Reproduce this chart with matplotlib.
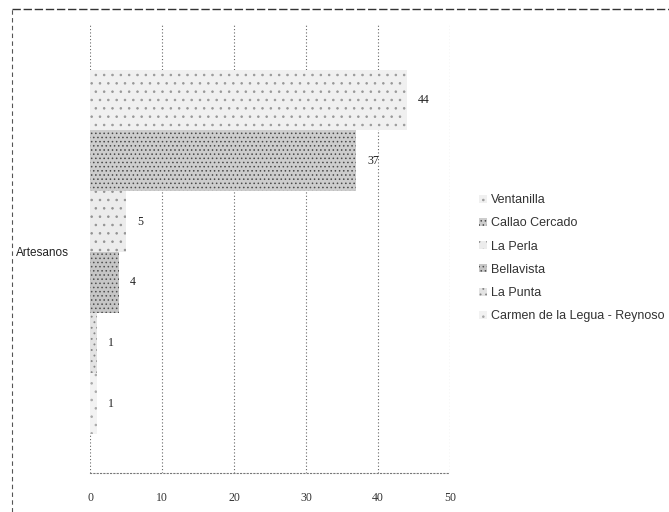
import matplotlib.pyplot as plt
from matplotlib.lines import Line2D
from matplotlib.patches import Patch
import numpy as np

plt.rcParams['font.family'] = ['Liberation Sans', 'DejaVu Sans']

category = "Artesanos"
series = ["Ventanilla", "Callao Cercado", "La Perla", "Bellavista", "La Punta",
          "Carmen de la Legua - Reynoso"]
values = [44, 37, 5, 4, 1, 1]
x_ticks = [0, 10, 20, 30, 40, 50]

# stippled greys, imitating the scanned printout
faces = ['#f0f0f0', '#cdcdcd', '#ececec', '#c6c6c6', '#e3e3e3', '#f2f2f2']
dots = ['#989898', '#4a4a4a', '#929292', '#505050', '#858585', '#a8a8a8']
hatches = ['..', '....', '..', '....', '...', '..']

plt.rcParams['hatch.linewidth'] = 0.6

fig = plt.figure(figsize=(6.69, 5.12), dpi=100)
ax = fig.add_axes([90 / 669, 1 - 473 / 512, 360 / 669, 450 / 512])

n = len(series)
ypos = np.arange(n)[::-1]
for i in range(n):
    ax.barh(ypos[i], values[i], height=1.0, color=faces[i], edgecolor=dots[i],
            hatch=hatches[i], linewidth=0, label=series[i], zorder=2)
    ax.annotate(str(values[i]), (values[i], ypos[i]), xytext=(8, 0),
                textcoords='offset points', ha='left', va='center',
                fontsize=8.5, color='#222222', family='Liberation Serif')

ax.set_xlim(0, 50)
ax.set_ylim(-0.5 - 0.64, n - 0.5 + 0.77)
ax.set_xticks(x_ticks)
ax.set_xticklabels([str(t) for t in x_ticks], family='Liberation Serif', fontsize=8.5,
                   color='#333333')
ax.set_yticks([(n - 1) / 2])
ax.set_yticklabels([category], fontsize=8.5, color='#222222')
ax.tick_params(axis='both', length=0)
ax.tick_params(axis='x', pad=14)
ax.tick_params(axis='y', pad=15)

for s in ['top', 'right', 'left']:
    ax.spines[s].set_visible(False)
ax.spines['bottom'].set_linestyle((0, (1, 2)))
ax.spines['bottom'].set_color('#777777')
ax.spines['bottom'].set_linewidth(0.8)
ax.xaxis.grid(True, linestyle=(0, (1, 2)), color='#666666', linewidth=0.8, zorder=0)
ax.set_axisbelow(True)

handles = [Patch(facecolor=faces[i], edgecolor=dots[i], hatch=hatches[i], linewidth=0)
           for i in range(n)]
fig.legend(handles, series, loc='upper left', bbox_to_anchor=(479 / 669, 1 - 194 / 512),
           frameon=False, fontsize=9, handlelength=0.6, handleheight=0.6,
           handletextpad=0.35, labelspacing=0.9, borderaxespad=0, borderpad=0,
           labelcolor='#333333')

# dashed chart-area border (top and left), as in the scan
fig.add_artist(Line2D([12 / 669, 1.0], [1 - 9 / 512, 1 - 9 / 512], transform=fig.transFigure,
                      color='#333333', linewidth=1.0, linestyle=(0, (6, 2))))
fig.add_artist(Line2D([12 / 669, 12 / 669], [0, 1 - 9 / 512], transform=fig.transFigure,
                      color='#555555', linewidth=0.8, linestyle=(0, (4, 3))))

fig.savefig('out.png', dpi=100)
